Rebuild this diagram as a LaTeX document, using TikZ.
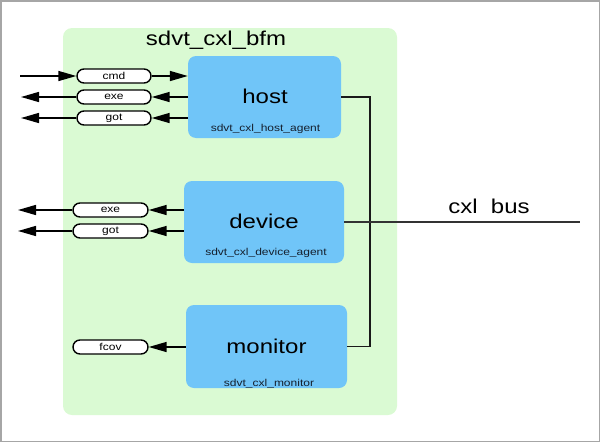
\documentclass[tikz,border=0pt]{standalone}
\usepackage{fontspec}
\setmainfont[FakeStretch=1.2]{Liberation Sans}
\usetikzlibrary{arrows.meta}
\definecolor{bfmgreen}{HTML}{DAFAD3}
\definecolor{agentblue}{HTML}{70C5F8}
\definecolor{smalltxt}{HTML}{15202E}
\tikzset{
  bigtxt/.style={font=\fontsize{20}{24}\selectfont, text=black, anchor=base, inner sep=0pt},
  smalltext/.style={font=\fontsize{10}{12}\selectfont, text=smalltxt, anchor=base, inner sep=0pt},
  agentbox/.style={fill=agentblue, rounded corners=8pt, draw=none, inner sep=0pt},
  pill/.style={draw=black, line width=1.4pt, fill=white, rounded corners=7pt,
    minimum height=14pt, inner sep=0pt, font=\fontsize{10}{12}\selectfont},
  arr/.style={line width=1.5pt, -{Triangle[length=18pt,width=10pt]}},
  wire/.style={line width=1.5pt, draw=black!90},
}
\begin{document}
\begin{tikzpicture}[x=1pt, y=-1pt]
\useasboundingbox (0,0) rectangle (600,442);
\draw[black!35, line width=1.5pt] (0.75,0.75) rectangle (599.25,441.25);
% container
\node[fill=bfmgreen, rounded corners=9pt, minimum width=334pt, minimum height=387pt, inner sep=0pt] (bfm) at (230,221.5) {};
\node[bigtxt] (bfmlbl) at (216,45) {sdvt\_cxl\_bfm};
% agents
\node[agentbox, minimum width=153pt, minimum height=82pt] (host) at (264.5,97) {};
\node[agentbox, minimum width=160pt, minimum height=82pt] (device) at (264,222) {};
\node[agentbox, minimum width=161pt, minimum height=83pt] (monitor) at (266.5,346.5) {};
\node[bigtxt] (hostlbl) at (265,103) {host};
\node[smalltext] (hostsub) at (265.5,131) {sdvt\_cxl\_host\_agent};
\node[bigtxt] (devlbl) at (264,228) {device};
\node[smalltext] (devsub) at (266,255) {sdvt\_cxl\_device\_agent};
\node[bigtxt] (monlbl) at (266.5,353) {monitor};
\node[smalltext] (monsub) at (269,386) {sdvt\_cxl\_monitor};
% pills
\node[pill, minimum width=74pt] (cmd) at (114,76) {cmd};
\node[pill, minimum width=74pt] (hexe) at (114,97) {exe};
\node[pill, minimum width=74pt] (hgot) at (114,118) {got};
\node[pill, minimum width=75pt] (dexe) at (110.5,210) {exe};
\node[pill, minimum width=75pt] (dgot) at (110.5,231) {got};
\node[pill, minimum width=75pt] (fcov) at (110.5,347) {fcov};
% free ends
\coordinate (cmdin) at (20,76);
\coordinate (hexeout) at (21,97);
\coordinate (hgotout) at (21,118);
\coordinate (dexeout) at (18,210);
\coordinate (dgotout) at (18,231);
\coordinate (busend) at (580,222);
% connectors
\draw[arr] (cmdin) -- (cmd.west);
\draw[arr] (cmd.east) -- (host.west |- cmd.east);
\draw[arr] (host.west |- hexe.east) -- (hexe.east);
\draw[arr] (hexe.west) -- (hexeout);
\draw[arr] (host.west |- hgot.east) -- (hgot.east);
\draw[arr] (hgot.west) -- (hgotout);
\draw[arr] (device.west |- dexe.east) -- (dexe.east);
\draw[arr] (dexe.west) -- (dexeout);
\draw[arr] (device.west |- dgot.east) -- (dgot.east);
\draw[arr] (dgot.west) -- (dgotout);
\draw[arr] (monitor.west |- fcov.east) -- (fcov.east);
% bus
\draw[wire] (host.east) -- ++(29,0) |- (monitor.east);
\draw[wire, line width=1.8pt, draw=black!80] (device.east) -- (busend);
\node[bigtxt] (buslbl) at (489,213) {cxl\ \ bus};
\end{tikzpicture}
\end{document}
